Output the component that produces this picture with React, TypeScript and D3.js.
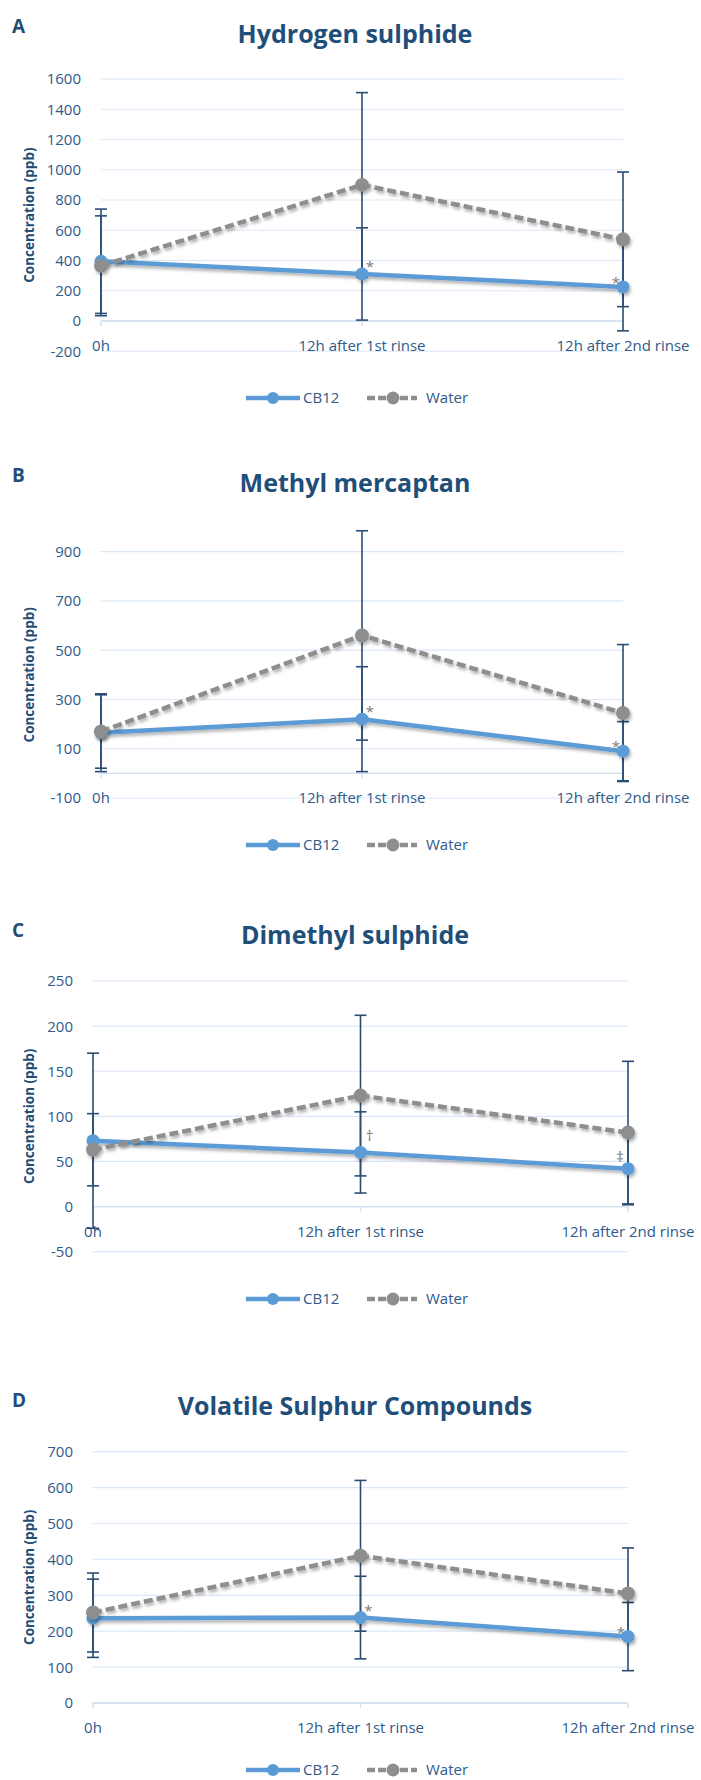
import React from "react";
import * as d3 from "d3";

// ---------- DATA ----------
const categories = ["0h", "12h after 1st rinse", "12h after 2nd rinse"];
const seriesNames = ["CB12", "Water"];
const titles = ["Hydrogen sulphide", "Methyl mercaptan", "Dimethyl sulphide", "Volatile Sulphur Compounds"];
const panelLetters = ["A", "B", "C", "D"];
const yAxisTitle = "Concentration (ppb)";

// A: Hydrogen sulphide
const h2sCB12 = [395, 311, 225];
const h2sCB12Err = [345, 305, 290];
const h2sWater = [365, 900, 540];
const h2sWaterErr = [330, 610, 445];
const h2sTicks = [-200, 0, 200, 400, 600, 800, 1000, 1200, 1400, 1600];
const h2sMarks = ["", "*", "*"];

// B: Methyl mercaptan
const mmCB12 = [165, 220, 90];
const mmCB12Err = [158, 213, 120];
const mmWater = [170, 560, 245];
const mmWaterErr = [149, 425, 278];
const mmTicks = [-100, 100, 300, 500, 700, 900];
const mmMarks = ["", "*", "*"];

// C: Dimethyl sulphide
const dmsCB12 = [73, 60, 42];
const dmsCB12Err = [97, 45, 40];
const dmsWater = [63, 123, 82];
const dmsWaterErr = [40, 89, 79];
const dmsTicks = [-50, 0, 50, 100, 150, 200, 250];
const dmsMarks = ["", "\u2020", "\u2021"];

// D: Volatile Sulphur Compounds
const vscCB12 = [236, 238, 185];
const vscCB12Err = [109, 115, 95];
const vscWater = [252, 410, 305];
const vscWaterErr = [110, 210, 127];
const vscTicks = [0, 100, 200, 300, 400, 500, 600, 700];
const vscMarks = ["", "*", "*"];

// ---------- LAYOUT / STYLE ----------
const layouts = [
  { left: 101, right: 623, top: 79, bottom: 351.25, title: 43, letter: 33, legend: 398 },
  { left: 101, right: 623, top: 551.7, bottom: 798, title: 492, letter: 482, legend: 845 },
  { left: 93, right: 628, top: 981, bottom: 1251.7, title: 944, letter: 937, legend: 1299 },
  { left: 93, right: 628, top: 1451.7, bottom: 1703, title: 1415, letter: 1407, legend: 1770 },
];

const panels = [
  { cb: h2sCB12, cbErr: h2sCB12Err, w: h2sWater, wErr: h2sWaterErr, ticks: h2sTicks, marks: h2sMarks },
  { cb: mmCB12, cbErr: mmCB12Err, w: mmWater, wErr: mmWaterErr, ticks: mmTicks, marks: mmMarks },
  { cb: dmsCB12, cbErr: dmsCB12Err, w: dmsWater, wErr: dmsWaterErr, ticks: dmsTicks, marks: dmsMarks },
  { cb: vscCB12, cbErr: vscCB12Err, w: vscWater, wErr: vscWaterErr, ticks: vscTicks, marks: vscMarks },
];

const FONT = "'Open Sans', 'Noto Sans', sans-serif";
const BLUE = "#5B9BD5";
const GRAY = "#8E8E8E";
const NAVY = "#1F4E79";
const TICK = "#2F5A8A";
const ERR = "#2B4D73";
const GRID = "#DCE7F5";
const AXIS = "#D0DEF0";

function Panel({ idx }: { idx: number }) {
  const L = layouts[idx];
  const P = panels[idx];
  const x = d3.scalePoint<string>().domain(categories).range([L.left, L.right]);
  const y = d3
    .scaleLinear()
    .domain([P.ticks[0], P.ticks[P.ticks.length - 1]])
    .range([L.bottom, L.top]);
  const zeroY = y(0);
  const midY = (L.top + L.bottom) / 2;

  const line = d3
    .line<number>()
    .x((_, i) => x(categories[i]) as number)
    .y((d) => y(d));

  const errBars = (vals: number[], errs: number[], key: string) =>
    vals.map((v, i) => {
      const cx = x(categories[i]) as number;
      const y1 = y(v + errs[i]);
      const y2 = y(v - errs[i]);
      return (
        <g key={key + i} stroke={ERR} strokeWidth={1.6}>
          <line x1={cx} x2={cx} y1={y1} y2={y2} />
          <line x1={cx - 6} x2={cx + 6} y1={y1} y2={y1} />
          <line x1={cx - 6} x2={cx + 6} y1={y2} y2={y2} />
        </g>
      );
    });

  const markOffset = (m: string, i: number) => {
    const last = i === categories.length - 1;
    if (m === "*") return { dx: last ? -7 : 8, dy: last ? 1 : -2 };
    if (m === "\u2020") return { dx: 9, dy: -11 };
    return { dx: -8, dy: -7 };
  };

  return (
    <g>
      {/* panel letter & title */}
      <text x={12} y={L.letter} fontFamily={FONT} fontWeight={700} fontSize={19} fill={NAVY}>
        {panelLetters[idx]}
      </text>
      <text x={355} y={L.title} textAnchor="middle" fontFamily={FONT} fontWeight={700} fontSize={25} fill={NAVY}>
        {titles[idx]}
      </text>

      {/* gridlines */}
      {P.ticks.map((t) => (
        <line key={"g" + t} x1={L.left} x2={L.right} y1={y(t)} y2={y(t)} stroke={GRID} strokeWidth={1.2} />
      ))}
      {/* x axis at zero */}
      <line x1={L.left} x2={L.right} y1={zeroY} y2={zeroY} stroke={AXIS} strokeWidth={1.4} />
      {categories.map((c) => (
        <line
          key={"t" + c}
          x1={x(c) as number}
          x2={x(c) as number}
          y1={zeroY}
          y2={zeroY + 5}
          stroke={AXIS}
          strokeWidth={1.4}
        />
      ))}

      {/* tick labels */}
      {P.ticks.map((t) => (
        <text
          key={"l" + t}
          x={L.left - 20}
          y={y(t)}
          dy="0.36em"
          textAnchor="end"
          fontFamily={FONT}
          fontSize={15}
          fill={TICK}
        >
          {t}
        </text>
      ))}
      {categories.map((c) => (
        <text
          key={"c" + c}
          x={x(c) as number}
          y={zeroY + 30}
          textAnchor="middle"
          fontFamily={FONT}
          fontSize={15}
          fill={TICK}
        >
          {c}
        </text>
      ))}

      {/* axis title */}
      <text
        transform={`translate(29,${midY}) rotate(-90)`}
        textAnchor="middle"
        dy="0.35em"
        fontFamily={FONT}
        fontWeight={700}
        fontSize={13.5}
        fill={NAVY}
      >
        {yAxisTitle}
      </text>

      {/* error bars */}
      {errBars(P.cb, P.cbErr, "ec")}
      {errBars(P.w, P.wErr, "ew")}

      {/* CB12 series */}
      <g filter="url(#shadow)">
        <path d={line(P.cb) || ""} fill="none" stroke={BLUE} strokeWidth={4.5} strokeLinejoin="round" />
        {P.cb.map((v, i) => (
          <circle key={"mc" + i} cx={x(categories[i]) as number} cy={y(v)} r={6.5} fill={BLUE} />
        ))}
      </g>
      {/* Water series */}
      <g filter="url(#shadow)">
        <path
          d={line(P.w) || ""}
          fill="none"
          stroke={GRAY}
          strokeWidth={4.5}
          strokeDasharray="9 4"
          strokeLinejoin="round"
        />
        {P.w.map((v, i) => (
          <circle key={"mw" + i} cx={x(categories[i]) as number} cy={y(v)} r={7} fill={GRAY} />
        ))}
      </g>

      {/* significance marks */}
      {P.marks.map((m, i) => {
        if (!m) return null;
        const o = markOffset(m, i);
        return (
          <text
            key={"s" + i}
            x={(x(categories[i]) as number) + o.dx}
            y={y(P.cb[i]) + o.dy}
            textAnchor="middle"
            fontFamily={FONT}
            fontSize={15}
            fill="#7A7A7A"
          >
            {m}
          </text>
        );
      })}

      {/* legend */}
      <g>
        <line x1={246} x2={300} y1={L.legend} y2={L.legend} stroke={BLUE} strokeWidth={4.5} />
        <circle cx={273} cy={L.legend} r={6} fill={BLUE} />
        <text x={303} y={L.legend} dy="0.36em" fontFamily={FONT} fontSize={15} fill={TICK}>
          {seriesNames[0]}
        </text>
        <line
          x1={367}
          x2={417}
          y1={L.legend}
          y2={L.legend}
          stroke={GRAY}
          strokeWidth={4.5}
          strokeDasharray="8 3"
        />
        <circle cx={393} cy={L.legend} r={6.5} fill={GRAY} />
        <text x={426} y={L.legend} dy="0.36em" fontFamily={FONT} fontSize={15} fill={TICK}>
          {seriesNames[1]}
        </text>
      </g>
    </g>
  );
}

export default function App() {
  return (
    <svg
      width={701}
      height={1780}
      viewBox="0 0 701 1780"
      style={{ position: "absolute", left: 0, top: 0, background: "#fff" }}
    >
      <defs>
        <filter id="shadow" x="-10%" y="-30%" width="120%" height="160%">
          <feDropShadow dx={1.5} dy={2.5} stdDeviation={1.6} floodColor="#000" floodOpacity={0.3} />
        </filter>
      </defs>
      <rect width={701} height={1780} fill="#fff" />
      {panels.map((_, i) => (
        <Panel key={i} idx={i} />
      ))}
    </svg>
  );
}
